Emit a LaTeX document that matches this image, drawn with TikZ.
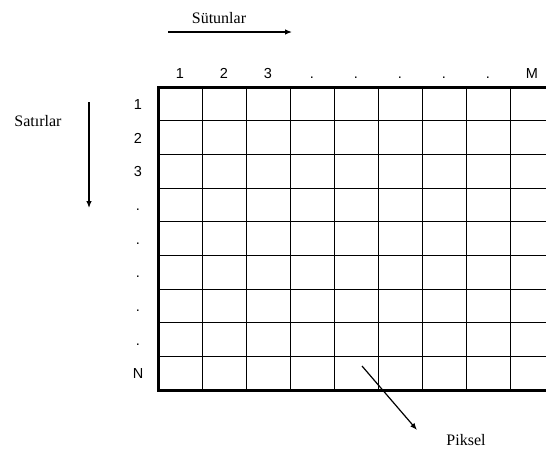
\documentclass[tikz,border=0pt]{standalone}
\usepackage{fontspec}
\setmainfont{Liberation Serif}
\newfontfamily\numfont{Liberation Sans}
\usetikzlibrary{arrows.meta}

\begin{document}
\begin{tikzpicture}[x=1pt,y=-1pt,
 lbl/.style={font=\numfont\fontsize{14.5}{14.5}\selectfont,text height=10.5pt,text depth=0pt,inner sep=0pt},
 ttl/.style={font=\fontsize{16}{16}\selectfont,inner sep=0pt},
 a/.style={-{Latex[length=7pt,width=5.5pt]},line width=1.2pt},
 frame/.style={line width=3pt},
 cell/.style={line width=1pt}
]
\useasboundingbox (0,0) rectangle (546,448);
% piksel izgarasi
\foreach \i in {1,...,8} \draw[cell] (158+44*\i,87) -- (158+44*\i,390);
\foreach \j in {1,...,8} \draw[cell] (158,87+33.67*\j) -- (546,87+33.67*\j);
\draw[frame] (546,87) -- (158,87) -- (158,390) -- (546,390);
% sutun ve satir numaralari
\foreach \t [count=\k] in {1,2,3,.,.,.,.,.,M} \node[lbl] (c\k) at (136+44*\k,73) {\t};
\foreach \t [count=\k] in {1,2,3,.,.,.,.,.,N} \node[lbl] (r\k) at (138,70.5+33.67*\k) {\t};
% oklar
\node[ttl] (sutun) at (219,18) {Sütunlar};
\coordinate (s0) at (168,32); \coordinate (s1) at (292,32);
\draw[a] (s0) -- (s1);
\node[ttl] (satir) at (38,121) {Satırlar};
\coordinate (t0) at (89,102); \coordinate (t1) at (89,208);
\draw[a] (t0) -- (t1);
\node[ttl] (piksel) at (466,440) {Piksel};
\coordinate (p0) at (362,366); \coordinate (p1) at (417,430);
\draw[a] (p0) -- (p1);
\end{tikzpicture}
\end{document}
